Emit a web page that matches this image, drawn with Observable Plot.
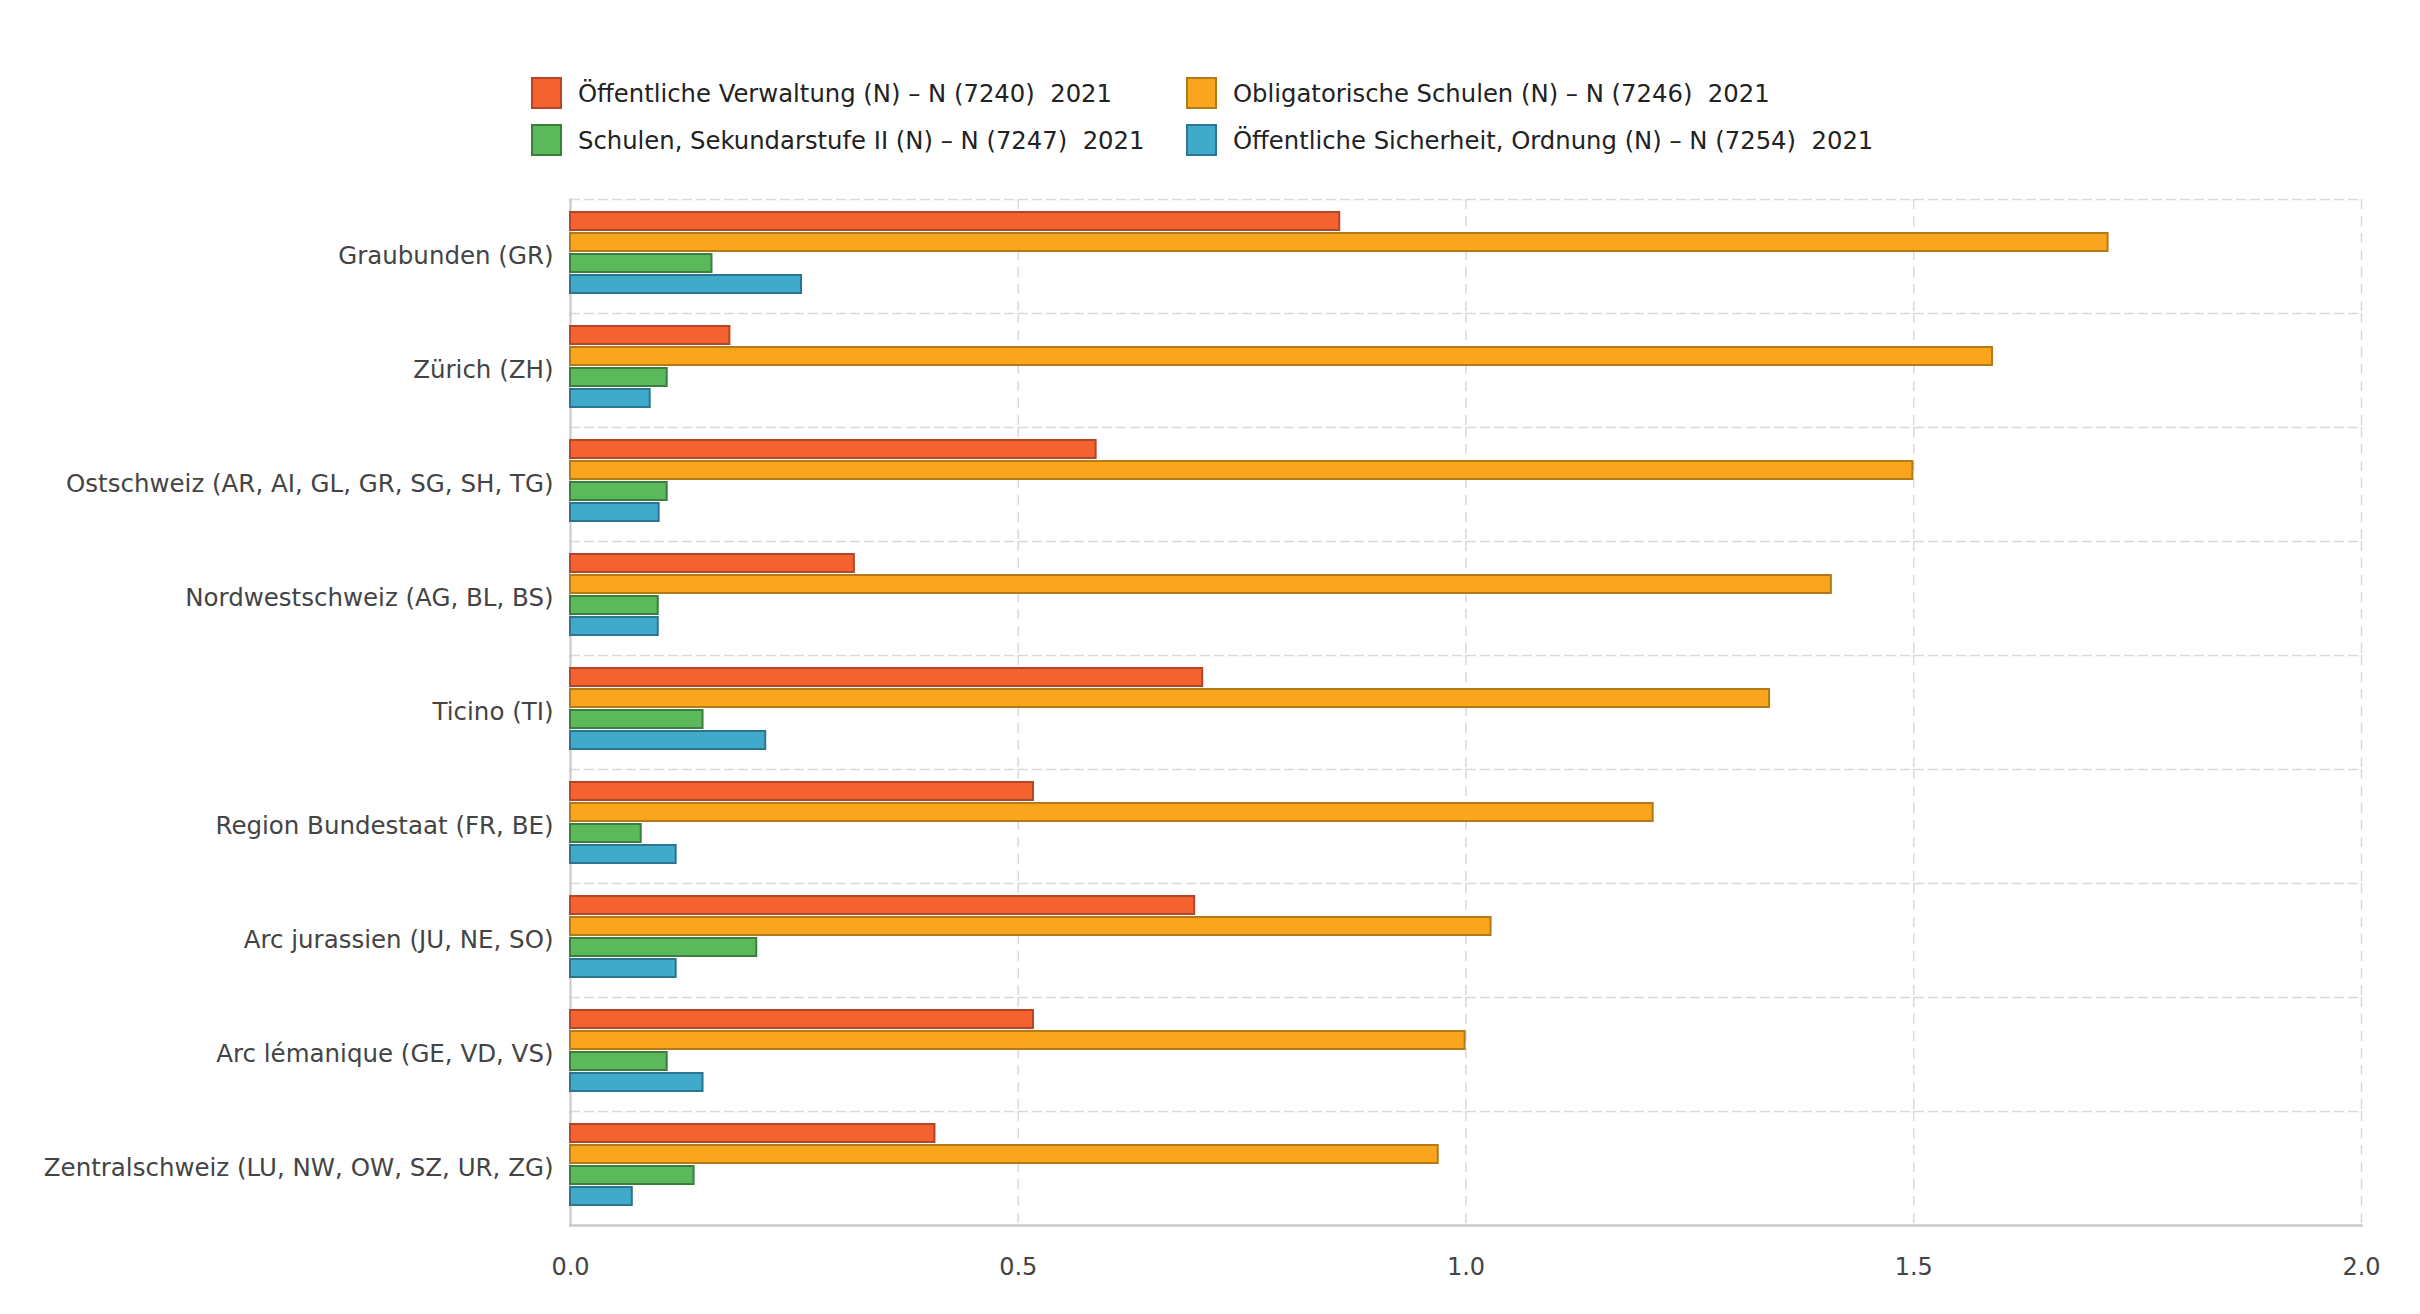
<!DOCTYPE html>
<html>
<head>
<meta charset="utf-8">
<script src="https://cdn.jsdelivr.net/npm/d3@7"></script>
<script src="https://cdn.jsdelivr.net/npm/@observablehq/plot@0.6"></script>
<style>
  html, body { margin: 0; padding: 0; background: #fff; }
  body { width: 2420px; font-family: "DejaVu Sans", Verdana, sans-serif; }
  #legend { position: relative; height: 180px; }
  .item { position: absolute; display: flex; align-items: center; font-size: 24.3px; color: #222; white-space: pre; }
  .sw { width: 27px; height: 28px; border: 2px solid; margin-right: 16px; box-sizing: content-box; }
  #chart svg { display: block; }
</style>
</head>
<body>
<div id="legend"></div>
<div id="chart"></div>
<script>
const regions = [
  "Graubunden (GR)",
  "Zürich (ZH)",
  "Ostschweiz (AR, AI, GL, GR, SG, SH, TG)",
  "Nordwestschweiz (AG, BL, BS)",
  "Ticino (TI)",
  "Region Bundestaat (FR, BE)",
  "Arc jurassien (JU, NE, SO)",
  "Arc lémanique (GE, VD, VS)",
  "Zentralschweiz (LU, NW, OW, SZ, UR, ZG)"
];
const seriesNames = [
  "Öffentliche Verwaltung (N) – N (7240)  2021",
  "Obligatorische Schulen (N) – N (7246)  2021",
  "Schulen, Sekundarstufe II (N) – N (7247)  2021",
  "Öffentliche Sicherheit, Ordnung (N) – N (7254)  2021"
];
const verwaltung = [0.859, 0.178, 0.587, 0.317, 0.706, 0.517, 0.697, 0.517, 0.407];
const obligatorisch = [1.717, 1.588, 1.499, 1.408, 1.339, 1.209, 1.028, 0.999, 0.969];
const sekundar = [0.158, 0.108, 0.108, 0.098, 0.148, 0.079, 0.208, 0.108, 0.138];
const sicherheit = [0.258, 0.089, 0.099, 0.098, 0.218, 0.118, 0.118, 0.148, 0.069];
const fills = ["#f4622f", "#f9a61e", "#5bb85b", "#41aacb"];
const strokes = ["#b5452a", "#b27a18", "#3c7f3c", "#2c7590"];
const xTicks = [0, 0.5, 1.0, 1.5, 2.0];

const seriesValues = [verwaltung, obligatorisch, sekundar, sicherheit];
const data = [];
regions.forEach((r, i) => {
  seriesNames.forEach((s, j) => {
    data.push({region: r, series: s, value: seriesValues[j][i], si: j});
  });
});

// Legend
const legend = document.getElementById("legend");
const legendPos = [[531, 77], [1186, 77], [531, 124], [1186, 124]];
seriesNames.forEach((s, j) => {
  const it = document.createElement("div");
  it.className = "item";
  it.style.left = legendPos[j][0] + "px";
  it.style.top = legendPos[j][1] + "px";
  const sw = document.createElement("div");
  sw.className = "sw";
  sw.style.background = fills[j];
  sw.style.borderColor = strokes[j];
  const t = document.createElement("span");
  t.textContent = s;
  it.appendChild(sw);
  it.appendChild(t);
  legend.appendChild(it);
});

const gridColor = "#d9d9d9";
const chart = Plot.plot({
  width: 2420,
  height: 1133,
  marginTop: 15,
  marginBottom: 85,
  marginLeft: 570,
  marginRight: 59,
  style: {fontFamily: "'DejaVu Sans', Verdana, sans-serif", fontSize: "24px", color: "#444", background: "#fff"},
  x: {domain: [0, 2], ticks: xTicks, tickFormat: d3.format(".1f"), label: null},
  y: {domain: seriesNames, paddingInner: 0.136, paddingOuter: 0.677, align: 0.41, axis: null},
  fy: {domain: regions, padding: 0, label: null},
  marks: [
    Plot.gridX(xTicks, {stroke: gridColor, strokeOpacity: 1, strokeWidth: 1.5, strokeDasharray: "10,7"}),
    Plot.frame({anchor: "top", stroke: gridColor, strokeWidth: 1.5, strokeDasharray: "9,5"}),
    Plot.frame({anchor: "left", stroke: "#c8c8c8", strokeWidth: 2}),
    Plot.frame({anchor: "bottom", fy: [regions[regions.length - 1]], stroke: "#c8c8c8", strokeWidth: 2.5}),
    Plot.barX(data, {
      x: "value", y: "series", fy: "region",
      fill: {value: d => fills[d.si], scale: null},
      stroke: {value: d => strokes[d.si], scale: null},
      strokeWidth: 2
    }),
    Plot.axisX({anchor: "bottom", ticks: xTicks, tickFormat: d3.format(".1f"), tickSize: 0, tickPadding: 32, fontSize: 24, fill: "#444", label: null}),
    Plot.axisFy({anchor: "left", tickSize: 0, tickPadding: 17, fontSize: 24.5, fill: "#444", label: null})
  ]
});
document.getElementById("chart").appendChild(chart);
</script>
</body>
</html>
